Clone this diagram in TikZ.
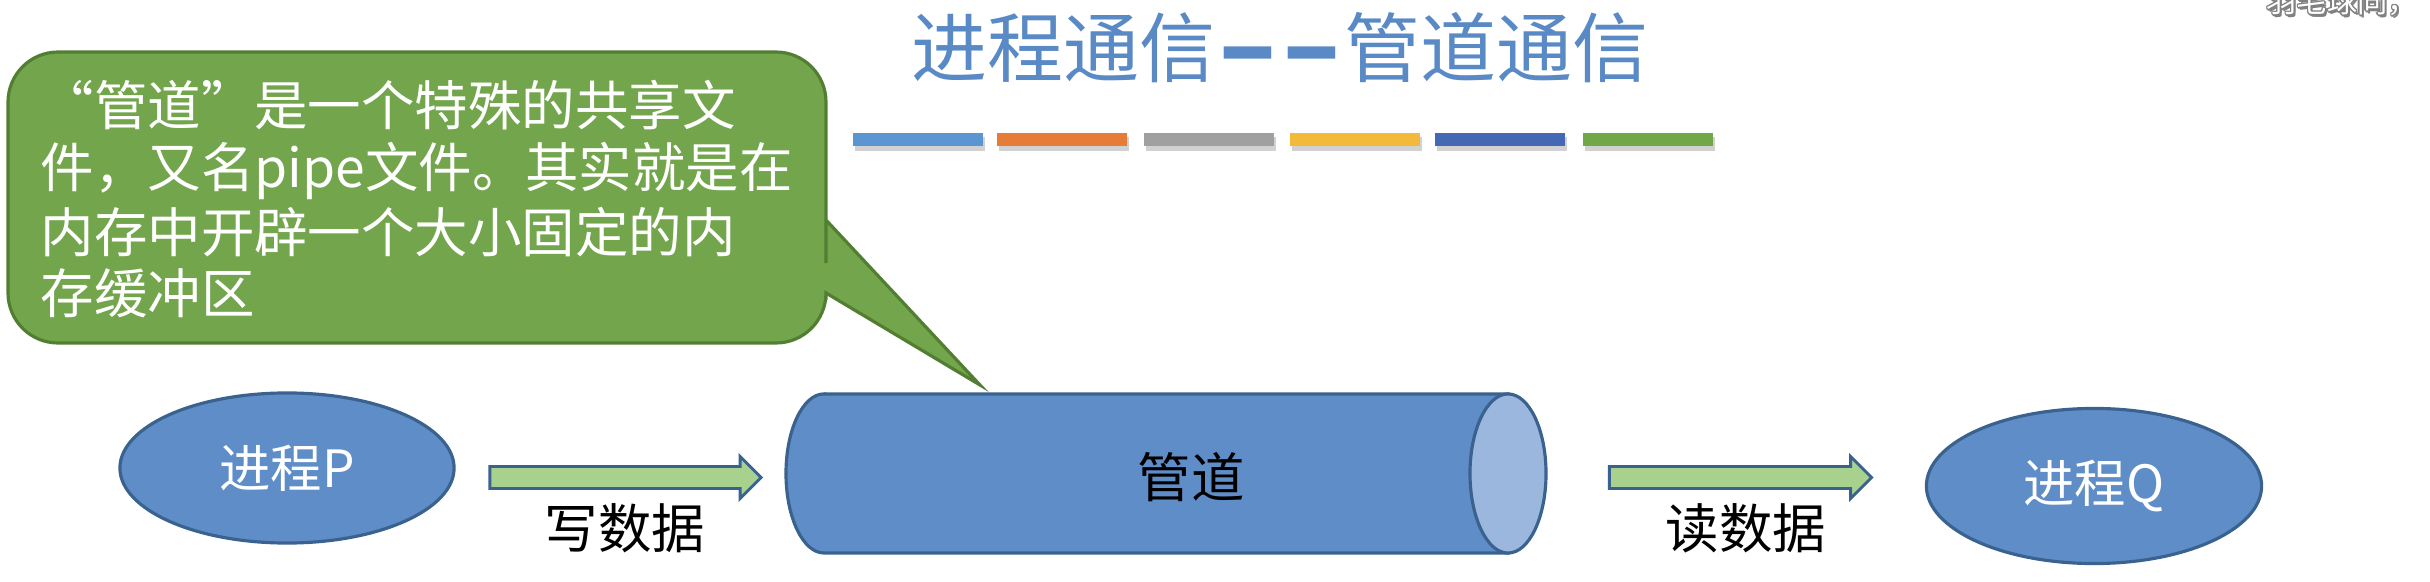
\documentclass[tikz,border=0pt]{standalone}
\usepackage{fontspec}
\setmainfont{Noto Sans CJK SC}
\usetikzlibrary{shapes.geometric,shapes.arrows}
\definecolor{titleblue}{RGB}{90,138,198}
\definecolor{procfill}{RGB}{95,141,200}
\definecolor{procdraw}{RGB}{58,98,142}
\definecolor{capfill}{RGB}{155,183,221}
\definecolor{callfill}{RGB}{114,165,76}
\definecolor{calldraw}{RGB}{82,126,50}
\definecolor{arrfill}{RGB}{169,209,142}
\definecolor{barA}{RGB}{91,150,210}
\definecolor{barB}{RGB}{230,124,55}
\definecolor{barC}{RGB}{160,160,160}
\definecolor{barD}{RGB}{243,185,58}
\definecolor{barE}{RGB}{68,104,180}
\definecolor{barF}{RGB}{112,168,72}
\newcommand\titledash{\raisebox{-0.42em}[0pt][0pt]{\scalebox{0.78}[2.6]{—}}}
\tikzset{
  proc/.style={ellipse, draw=procdraw, fill=procfill, line width=0.9pt, text=white, inner sep=0pt,
    font=\fontsize{14.6pt}{17pt}\selectfont},
  lbl/.style={inner sep=0pt, text=black, font=\fontsize{15.2pt}{18pt}\selectfont},
  calltext/.style={inner sep=0pt, anchor=base west, text=white, font=\fontsize{15.2pt}{18pt}\selectfont},
  titletext/.style={inner sep=0pt, text=titleblue, font=\fontsize{21.6pt}{26pt}\selectfont},
  blockarrow/.style={single arrow, draw=procdraw, fill=arrfill, line width=0.8pt,
    inner xsep=0pt, inner ysep=0.095cm, single arrow head extend=0.1cm, single arrow tip angle=90},
  subtext/.style={inner sep=0pt, anchor=base west, font=\fontsize{8.6pt}{10pt}\selectfont},
}
\begin{document}
\begin{tikzpicture}[x=0.01cm,y=-0.01cm]
\useasboundingbox (0,0) rectangle (2430,582);
\fill[white] (0,0) rectangle (2430,582);
\clip (0,0) rectangle (2430,582);

% title
\node[titletext] (title) at (1280,48) {进程通信\hspace{0.08em}\titledash\hspace{0.14em}\titledash\hspace{0.08em}管道通信};

% colour bars
\foreach \x/\c [count=\i] in {853/barA,997/barB,1144/barC,1290/barD,1435/barE,1583/barF}{
  \fill[black, opacity=0.18] (\x+2,137) rectangle (\x+132,151);
  \fill[\c] (\x,133) rectangle (\x+130,146);
}

% subtitle overlay (cut at top)
\foreach \dx/\dy in {-1.5/0,1.5/0,0/-1.5,0/1.5,-1/-1,1/1,-1/1,1/-1,2/2.5}{
  \node[subtext, text=gray] at (2266+\dx,13+\dy) {羽毛球同，};
}
\node[subtext, text=white] (sub) at (2266,13) {羽毛球同，};

% callout
\path[draw=calldraw, fill=callfill, line width=0.9pt]
  (400,52) [rounded corners=0.5cm] -- (826,52) -- (826,213) [sharp corners] -- (826,220)
  -- (980,385) -- (826,293) -- (826,300) [rounded corners=0.5cm] -- (826,343) -- (8,343) -- (8,52) -- cycle;
\node[calltext] (c1) at (40,126) {\makebox[1em][r]{“}管道\makebox[1em][l]{”}是一个特殊的共享文};
\node[calltext] (c2) at (40,188) {件，又名pipe文件。其实就是在};
\node[calltext] (c3) at (40,253) {内存中开辟一个大小固定的内};
\node[calltext] (c4) at (40,314) {存缓冲区};

% processes
\node[proc, minimum width=3.34cm, minimum height=1.50cm] (P) at (287,468) {进程P};
\node[proc, minimum width=3.35cm, minimum height=1.55cm] (Q) at (2094,486) {进程Q};

% pipe (cylinder)
\draw[draw=procdraw, fill=procfill, line width=0.9pt]
  (824,394) -- (1508,394) -- (1508,553) -- (824,553)
  arc[start angle=270, end angle=90, x radius=0.38cm, y radius=0.795cm] -- cycle;
\draw[draw=procdraw, fill=capfill, line width=0.9pt]
  (1508,473.5) ellipse[x radius=0.38cm, y radius=0.795cm];
\node[lbl] (pipe) at (1191,477) {管道};

% block arrows
\node[blockarrow, minimum height=2.71cm] (w) at (620,477.5) {};
\node[blockarrow, minimum height=2.62cm] (r) at (1735,477.5) {};
\node[lbl] (wl) at (625,528) {写数据};
\node[lbl] (rl) at (1746,528) {读数据};
\end{tikzpicture}
\end{document}
